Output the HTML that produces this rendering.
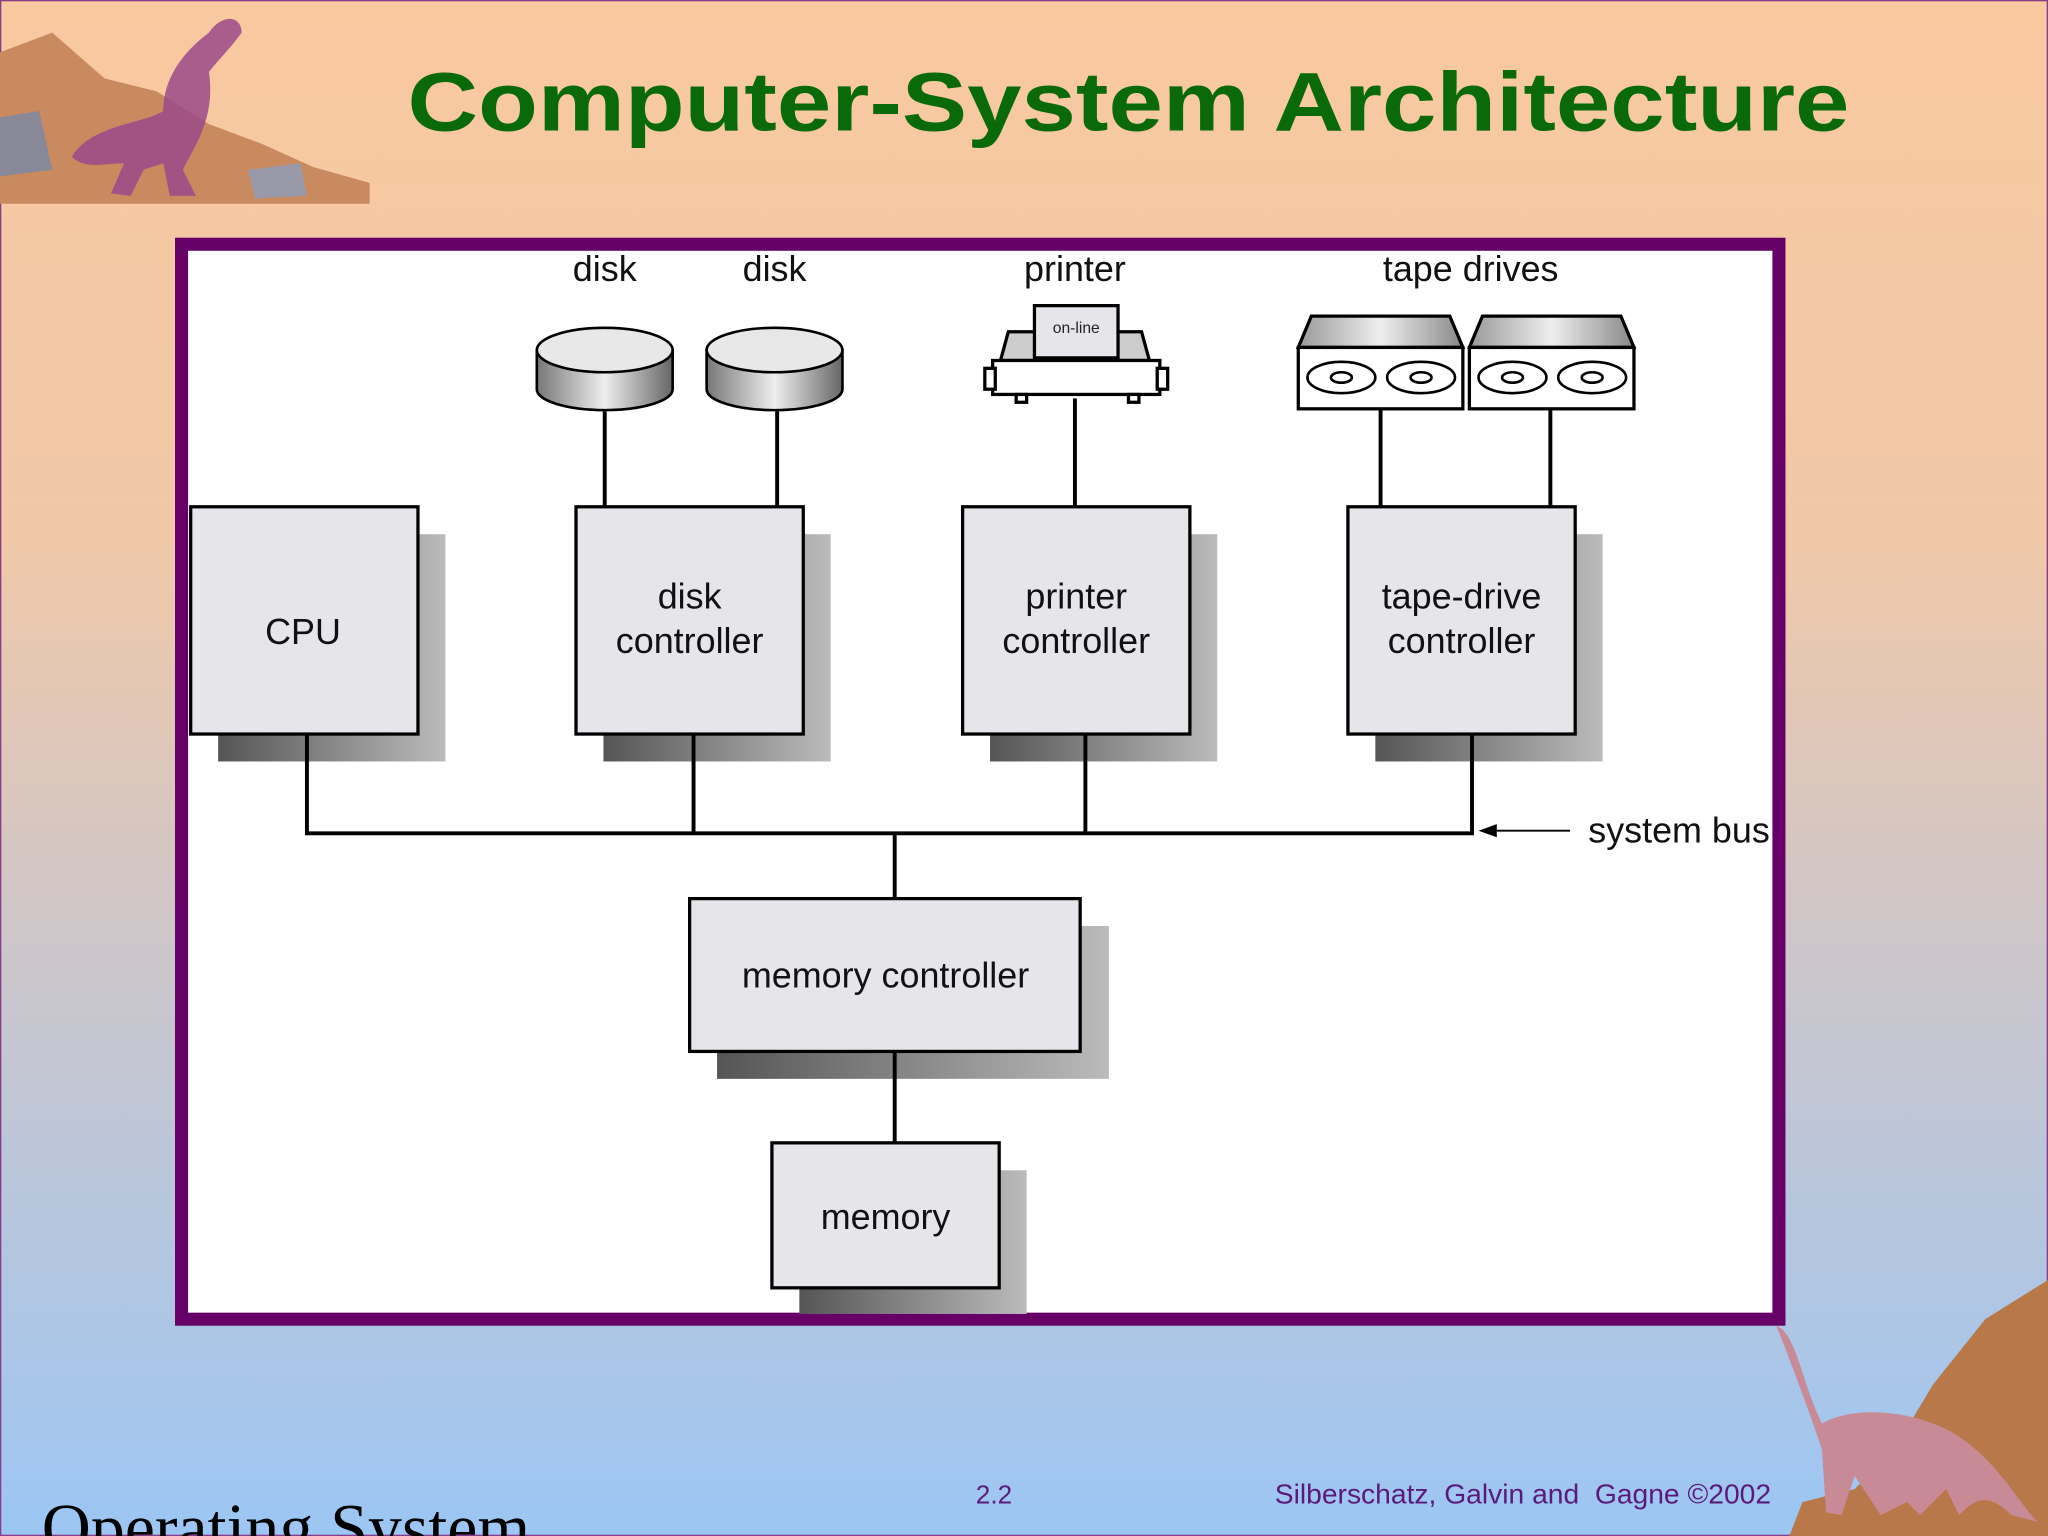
<!DOCTYPE html>
<html><head><meta charset="utf-8"><style>
html,body{margin:0;padding:0;overflow:hidden;width:2048px;height:1536px}
svg{display:block}
text{font-family:"Liberation Sans",sans-serif}
</style></head><body>
<svg width="2048" height="1536" viewBox="0 0 1568 1176" xmlns="http://www.w3.org/2000/svg">
<defs>
<linearGradient id="bg" x1="0" y1="0" x2="0" y2="1">
<stop offset="0" stop-color="#f9c9a0"/><stop offset="0.35" stop-color="#f0c8a8"/>
<stop offset="0.6" stop-color="#cfc6c8"/><stop offset="1" stop-color="#9cc6f4"/></linearGradient>
<linearGradient id="sh" x1="0" y1="0" x2="1" y2="0">
<stop offset="0" stop-color="#555"/><stop offset="1" stop-color="#bbb"/></linearGradient>
<linearGradient id="cyl" x1="0" y1="0" x2="1" y2="0">
<stop offset="0" stop-color="#777"/><stop offset="0.5" stop-color="#eee"/><stop offset="1" stop-color="#666"/></linearGradient>
<linearGradient id="tp" x1="0" y1="0" x2="1" y2="0">
<stop offset="0" stop-color="#999"/><stop offset="0.5" stop-color="#eee"/><stop offset="1" stop-color="#888"/></linearGradient>
</defs>
<rect width="1568" height="1176" fill="url(#bg)"/>
<rect x="0.5" y="0.5" width="1567" height="1175" fill="none" stroke="#8a3a8a" stroke-width="1"/>
<!-- top-left dino scene -->
<polygon points="0,40 40,25 80,60 120,70 160,95 200,110 240,128 283,140 283,156 0,156" fill="#c98a60"/>
<polygon points="0,90 30,85 40,130 0,135" fill="#889"/>
<polygon points="190,130 230,125 235,150 195,152" fill="#99a"/>
<path d="M55,120 C70,95 110,95 125,85 C125,60 140,40 160,25 C170,10 185,12 185,25 C178,35 168,45 160,55 C165,90 150,110 140,130 L150,150 L130,150 L125,125 L110,130 L100,150 L85,148 L95,125 C80,125 65,130 55,120 Z" fill="#9a4a8a" opacity="0.85"/>
<!-- bottom-right dino scene -->
<polygon points="1568,980 1520,1010 1480,1060 1450,1110 1420,1140 1380,1150 1370,1176 1568,1176" fill="#b8784a"/>
<path d="M1360,1015 C1375,1020 1380,1060 1395,1090 C1420,1075 1470,1080 1500,1100 C1530,1120 1545,1150 1560,1165 L1540,1160 C1520,1140 1510,1150 1500,1160 L1490,1140 L1470,1160 L1460,1150 L1440,1160 L1420,1130 L1410,1160 L1398,1158 L1395,1110 C1385,1080 1370,1040 1360,1015 Z" fill="#c98a98"/>
<!-- title -->
<text x="312" y="100" font-size="64" font-weight="bold" fill="#0a6a0a" textLength="1104" lengthAdjust="spacingAndGlyphs">Computer-System Architecture</text>
<!-- frame -->
<rect x="139" y="187" width="1223" height="823" fill="#fff" stroke="#660066" stroke-width="10"/>
<!-- shadows -->
<g fill="url(#sh)">
<rect x="167" y="409" width="174" height="174"/><rect x="462" y="409" width="174" height="174"/>
<rect x="758" y="409" width="174" height="174"/><rect x="1053" y="409" width="174" height="174"/>
<rect x="549" y="709" width="300" height="117"/><rect x="612" y="896" width="174" height="110"/>
</g>
<g fill="#e6e6ea" stroke="#000" stroke-width="2.5">
<rect x="146" y="388" width="174" height="174"/><rect x="441" y="388" width="174" height="174"/>
<rect x="737" y="388" width="174" height="174"/><rect x="1032" y="388" width="174" height="174"/>
<rect x="528" y="688" width="299" height="117"/><rect x="591" y="875" width="174" height="111"/>
</g>
<g stroke="#000" stroke-width="3" fill="none">
<path d="M235,562V638H1127V562M531,562V638M831,562V638M685,638V688M685,805V875"/>
<path d="M463,315V388M595,315V388M823,305V388M1057,313V388M1187,313V388"/>
</g>
<line x1="1202" y1="636" x2="1140" y2="636" stroke="#000" stroke-width="1.5"/>
<polygon points="1132,636 1146,631 1146,641" fill="#000"/>
<!-- disks -->
<g stroke="#000" stroke-width="2">
<path d="M411,268V298A52,16 0 0 0 515,298V268Z" fill="url(#cyl)"/>
<ellipse cx="463" cy="268" rx="52" ry="17" fill="#e8e8e8"/>
<path d="M541,268V298A52,16 0 0 0 645,298V268Z" fill="url(#cyl)"/>
<ellipse cx="593" cy="268" rx="52" ry="17" fill="#e8e8e8"/>
</g>
<!-- printer -->
<g stroke="#000" stroke-width="2.5">
<polygon points="772,254 874,254 880,276 766,276" fill="#ccc"/>
<rect x="760" y="276" width="128" height="26" fill="#fff"/>
<rect x="754" y="282" width="8" height="16" fill="#fff"/><rect x="886" y="282" width="8" height="16" fill="#fff"/>
<rect x="792" y="234" width="64" height="40" fill="#e6e6ea"/>
<rect x="778" y="302" width="8" height="6" fill="#fff"/><rect x="864" y="302" width="8" height="6" fill="#fff"/>
</g>
<text x="824" y="255" font-size="12" text-anchor="middle" fill="#222">on-line</text>
<!-- tape drives -->
<g stroke="#000" stroke-width="2.5">
<polygon points="1004,242 1110,242 1120,266 994,266" fill="url(#tp)"/>
<rect x="994" y="266" width="126" height="47" fill="#fff"/>
<polygon points="1135,242 1241,242 1251,266 1125,266" fill="url(#tp)"/>
<rect x="1125" y="266" width="126" height="47" fill="#fff"/>
</g>
<g stroke="#000" stroke-width="2" fill="none">
<ellipse cx="1027" cy="289" rx="26" ry="12"/><ellipse cx="1027" cy="289" rx="8" ry="4"/>
<ellipse cx="1088" cy="289" rx="26" ry="12"/><ellipse cx="1088" cy="289" rx="8" ry="4"/>
<ellipse cx="1158" cy="289" rx="26" ry="12"/><ellipse cx="1158" cy="289" rx="8" ry="4"/>
<ellipse cx="1219" cy="289" rx="26" ry="12"/><ellipse cx="1219" cy="289" rx="8" ry="4"/>
</g>
<!-- labels -->
<g font-size="27.5" fill="#111" text-anchor="middle">
<text x="463" y="215">disk</text><text x="593" y="215">disk</text>
<text x="823" y="215">printer</text><text x="1126" y="215">tape drives</text>
<text x="232" y="493">CPU</text>
<text x="528" y="466">disk</text><text x="528" y="500">controller</text>
<text x="824" y="466">printer</text><text x="824" y="500">controller</text>
<text x="1119" y="466">tape-drive</text><text x="1119" y="500">controller</text>
<text x="678" y="756">memory controller</text>
<text x="678" y="941">memory</text>
</g>
<text x="1216" y="645" font-size="27.5" fill="#111">system bus</text>
<!-- footer -->
<text x="32" y="1187" font-size="52" fill="#000" style="font-family:'Liberation Serif',serif">Operating System</text>
<text x="761" y="1151" font-size="20" fill="#5a1a7a" text-anchor="middle">2.2</text>
<text x="976" y="1151" font-size="21" fill="#5a1a7a" xml:space="preserve" textLength="380" lengthAdjust="spacingAndGlyphs">Silberschatz, Galvin and  Gagne ©2002</text>
</svg>
</body></html>
